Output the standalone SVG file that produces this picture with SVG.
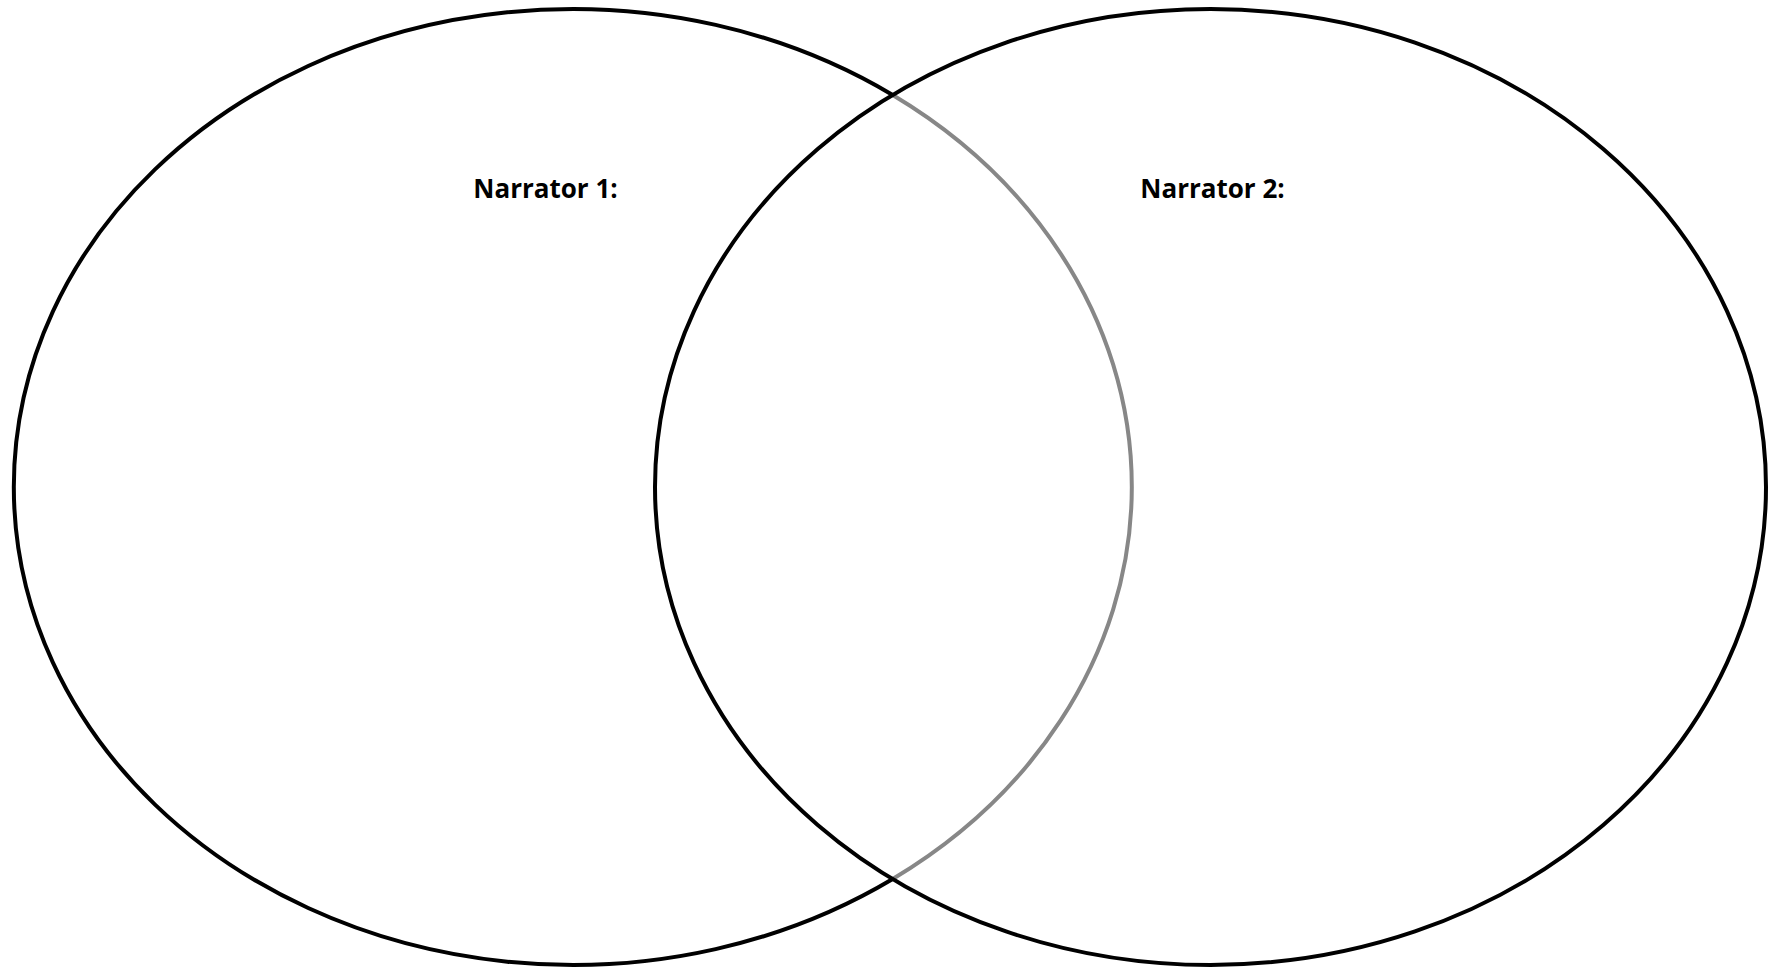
<svg xmlns="http://www.w3.org/2000/svg" width="1773" height="969" viewBox="0 0 1773 969">
<style>
.ln{fill:none;stroke:#000;stroke-width:4}
.gr{fill:none;stroke:#878787;stroke-width:4}
.lb{font-family:"Open Sans","Liberation Sans",sans-serif;font-weight:bold;font-size:26px;fill:#000;text-anchor:middle}
</style>
<rect width="1773" height="969" fill="#fff"/>
<g id="narrator1">
<path class="ln" d="M892.7,95 A559,478 0 1 0 892.7,879"/>
<path class="gr" d="M892.7,95 A559,478 0 0 1 892.7,879"/>
<text class="lb" x="545.5" y="198">Narrator 1:</text>
</g>
<g id="narrator2">
<ellipse class="ln" cx="1210.5" cy="487" rx="555.5" ry="478"/>
<text class="lb" x="1212.5" y="198">Narrator 2:</text>
</g>
<g id="connectors"></g>
</svg>
